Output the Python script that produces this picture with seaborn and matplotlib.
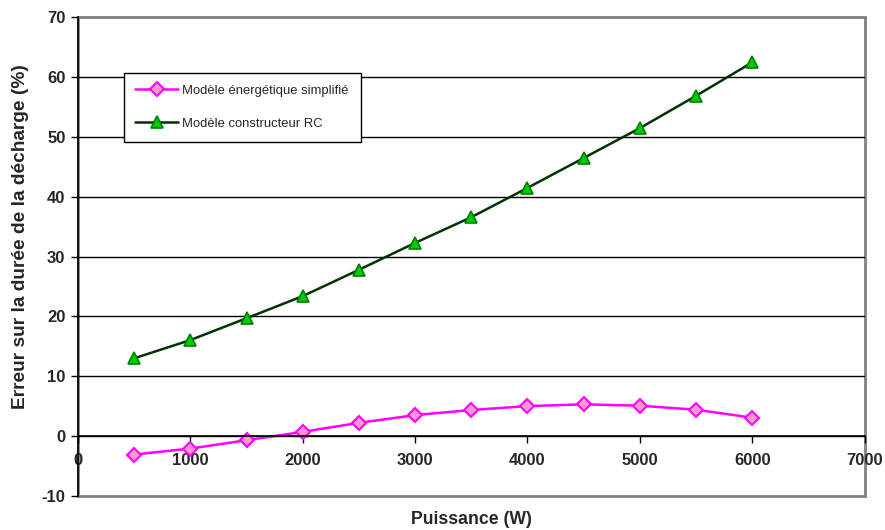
import matplotlib
matplotlib.use("Agg")
import matplotlib.pyplot as plt
import seaborn as sns
import pandas as pd
from matplotlib.patches import Rectangle

puissance = [500, 1000, 1500, 2000, 2500, 3000, 3500, 4000, 4500, 5000, 5500, 6000]
err_simplifie = [-3.1, -2.1, -0.7, 0.7, 2.2, 3.5, 4.35, 5.0, 5.3, 5.07, 4.4, 3.06]
err_rc = [13.0, 16.05, 19.7, 23.4, 27.8, 32.3, 36.6, 41.5, 46.5, 51.5, 56.9, 62.5]
label_simplifie = "Modèle énergétique simplifié"
label_rc = "Modèle constructeur RC"
x_ticks = [0, 1000, 2000, 3000, 4000, 5000, 6000, 7000]
y_ticks = [-10, 0, 10, 20, 30, 40, 50, 60, 70]

sns.set_style("white")
plt.rcParams['font.family'] = ['Liberation Sans', 'DejaVu Sans']

fig = plt.figure(figsize=(8.85, 5.3), dpi=100)
ax = fig.add_axes([0.0881, 0.0645, 0.977 - 0.0881, 0.967 - 0.0645])

df = pd.DataFrame({"x": puissance, "a": err_simplifie, "b": err_rc})
sns.lineplot(data=df, x="x", y="a", ax=ax, color="#FF00FF", lw=1.8,
             marker="D", markersize=7, markerfacecolor="#FF99CC",
             markeredgecolor="#FF00FF", markeredgewidth=1.5, label=label_simplifie)
sns.lineplot(data=df, x="x", y="b", ax=ax, color="#003300", lw=1.8,
             marker="^", markersize=9, markerfacecolor="#00CC00",
             markeredgecolor="#008000", markeredgewidth=1.2, label=label_rc)

for s in ["top", "right"]:
    ax.spines[s].set_visible(False)
ax.spines["bottom"].set_position(("data", 0))
ax.spines["bottom"].set_color("black")
ax.spines["bottom"].set_linewidth(1.2)
ax.spines["left"].set_color("black")
ax.spines["left"].set_linewidth(1.2)
ax.add_patch(Rectangle((0, 0), 1, 1, transform=ax.transAxes, fill=False,
                       edgecolor="#808080", lw=2, clip_on=False, zorder=0.5))

ax.set_xlim(0, 7000)
ax.set_ylim(-10, 70)
ax.set_xticks(x_ticks)
ax.set_yticks(y_ticks)
ax.set_xticklabels([str(t) for t in x_ticks], fontweight="bold", fontsize=12)
ax.set_yticklabels([str(t) for t in y_ticks], fontweight="bold", fontsize=12)

ax.grid(axis="y", color="black", lw=1)
ax.grid(axis="x", visible=False)
gl = ax.get_ygridlines()
gl[0].set_visible(False)
gl[-1].set_visible(False)
ax.set_axisbelow(True)

ax.tick_params(axis="both", direction="out", length=5, width=1, color="black",
               bottom=True, left=True, pad=4)
ax.tick_params(axis="x", pad=7)

ax.set_xlabel("Puissance (W)", fontweight="bold", fontsize=12.7)
ax.xaxis.label.set_va("center")
ax.xaxis.set_label_coords(0.5, -0.0485)
ax.set_ylabel("Erreur sur la durée de la décharge (%)", fontweight="bold", fontsize=13.8)
ax.yaxis.label.set_va("center")
ax.yaxis.set_label_coords(-0.0725, 0.543)

leg = ax.legend(loc="upper left", bbox_to_anchor=(0.058, 0.884), fontsize=9.4,
                frameon=True, fancybox=False, edgecolor="black", framealpha=1,
                labelspacing=1.6, handlelength=3.3, handletextpad=0.3,
                borderpad=0.9, borderaxespad=0)
leg.get_frame().set_linewidth(1)

fig.savefig("out.png", dpi=100)
